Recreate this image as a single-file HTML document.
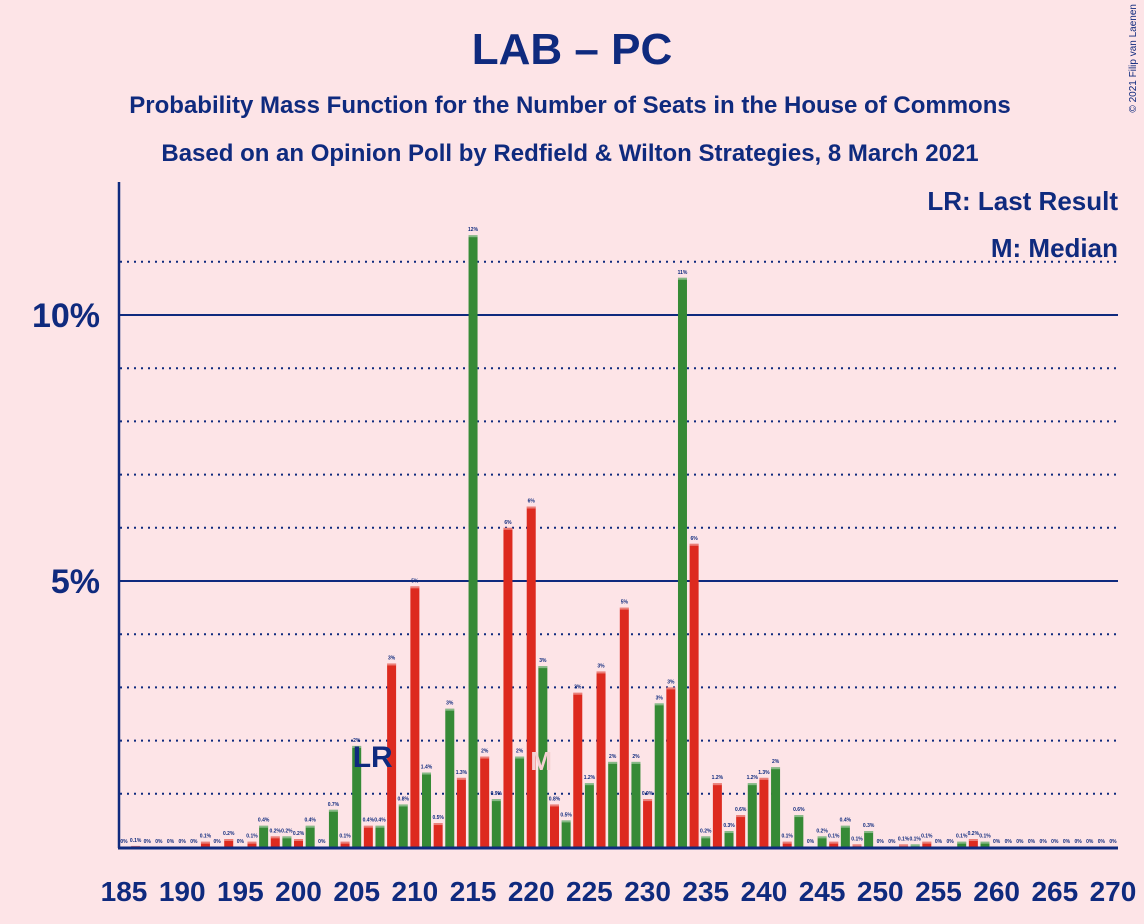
<!DOCTYPE html>
<html><head><meta charset="utf-8"><style>
body{margin:0;background:#fde4e7;font-family:"Liberation Sans",sans-serif;}
svg{display:block}
</style></head><body>
<svg id="c" width="1144" height="924">
<rect width="1144" height="924" fill="#fde4e7"/>
<text x="572" y="64" text-anchor="middle" font-size="44" font-weight="bold" fill="#0f2a7e">LAB – PC</text>
<text x="570" y="113" text-anchor="middle" font-size="24" font-weight="bold" fill="#0f2a7e">Probability Mass Function for the Number of Seats in the House of Commons</text>
<text x="570" y="161" text-anchor="middle" font-size="24" font-weight="bold" fill="#0f2a7e">Based on an Opinion Poll by Redfield &amp; Wilton Strategies, 8 March 2021</text>
<text x="1136" y="4" transform="rotate(-90 1136 4)" text-anchor="end" font-size="10" fill="#0f2a7e">© 2021 Filip van Laenen</text>
<text x="1118" y="210" text-anchor="end" font-size="26" font-weight="bold" fill="#0f2a7e">LR: Last Result</text>
<text x="1118" y="257" text-anchor="end" font-size="26" font-weight="bold" fill="#0f2a7e">M: Median</text>
<g id="grid"></g><g id="bars"></g><g id="xl"></g>
</svg>
<script>
const seats=[];for(let s=185;s<=270;s++)seats.push(s);
const probs=[0,0.02,0,0,0,0,0,0.1,0,0.15,0,0.1,0.4,0.2,0.2,0.15,0.4,0,0.7,0.1,
1.9,0.4,0.4,3.45,0.8,4.9,1.4,0.45,2.6,1.3,11.5,1.7,0.9,6.0,1.7,6.4,3.4,0.8,0.5,2.9,1.2,3.3,1.6,4.5,1.6,0.9,2.7,3.0,10.7,5.7,
0.2,1.2,0.3,0.6,1.2,1.3,1.5,0.1,0.6,0,0.2,0.1,0.4,0.05,0.3,0,0,0.05,0.05,0.1,0,0,0.1,0.15,0.1,0,0,0,0,0,0,0,0,0,0,0];
const yTicks=[5,10];
const gridDotted=[1,2,3,4,6,7,8,9,11];
const xTickLabels=[185,190,195,200,205,210,215,220,225,230,235,240,245,250,255,260,265,270];
const lastResult=205, median=220;
const NS="http://www.w3.org/2000/svg";
const X0=124,DX=11.635,Y0=847,PY=53.2;
const xs=s=>X0+(s-185)*DX, ys=v=>Y0-v*PY;
function mk(t,a,p){const e=document.createElementNS(NS,t);for(const k in a)e.setAttribute(k,a[k]);p.appendChild(e);return e;}
const g=document.getElementById('grid');
gridDotted.forEach(v=>{const l=mk('line',{x1:120,x2:1118,y1:ys(v),y2:ys(v),stroke:'#0f2a7e','stroke-width':2,'stroke-dasharray':'2,5'},g);

});
yTicks.forEach(v=>{const l=mk('line',{x1:120,x2:1118,y1:ys(v),y2:ys(v),stroke:'#0f2a7e','stroke-width':2},g);


const t=mk('text',{x:100,y:ys(v)+12,'text-anchor':'end','font-size':34,'font-weight':'bold',fill:'#0f2a7e'},g);t.textContent=v+'%';

});
const b=document.getElementById('bars');
seats.forEach((s,i)=>{const v=probs[i];const x=xs(s);const col=s%2?'#368a36':'#dd2a1f';
if(v>0){const h=v*PY;const r=mk('rect',{x:x-4.5,y:Y0-h,width:9,height:h,fill:col},b);


const cap=mk('rect',{x:x-4.5,y:Y0-h,width:9,height:Math.min(2,h),fill:'#fff',opacity:0.4},b);

}
const lab=v<1.5?(v===0?'0%':(Math.round(v*10)/10).toFixed(1)+'%'):Math.round(v)+'%';
const t=mk('text',{x:x,y:ys(v)-4,'text-anchor':'middle','font-size':5,'font-weight':'bold',fill:'#0f2a7e'},b);t.textContent=v>0&&v<0.1?'0.1%':lab;

});
const lr=mk('text',{x:xs(lastResult)+16,y:767,'text-anchor':'middle','font-size':30,'font-weight':'bold',fill:'#0f2a7e'},b);lr.textContent='LR';


const m=mk('text',{x:xs(median)+10,y:770,'text-anchor':'middle','font-size':26,'font-weight':'bold',fill:'#f5d0d3'},b);m.textContent='M';


const ax=mk('line',{x1:119,x2:119,y1:182,y2:848,stroke:'#0f2a7e','stroke-width':2.5},b);


const bx=mk('line',{x1:118,x2:1118,y1:848,y2:848,stroke:'#0f2a7e','stroke-width':3},b);


const xl=document.getElementById('xl');
xTickLabels.forEach(s=>{const t=mk('text',{x:xs(s),y:901,'text-anchor':'middle','font-size':28,'font-weight':'bold',fill:'#0f2a7e'},xl);t.textContent=s;

});
</script>
</body></html>
